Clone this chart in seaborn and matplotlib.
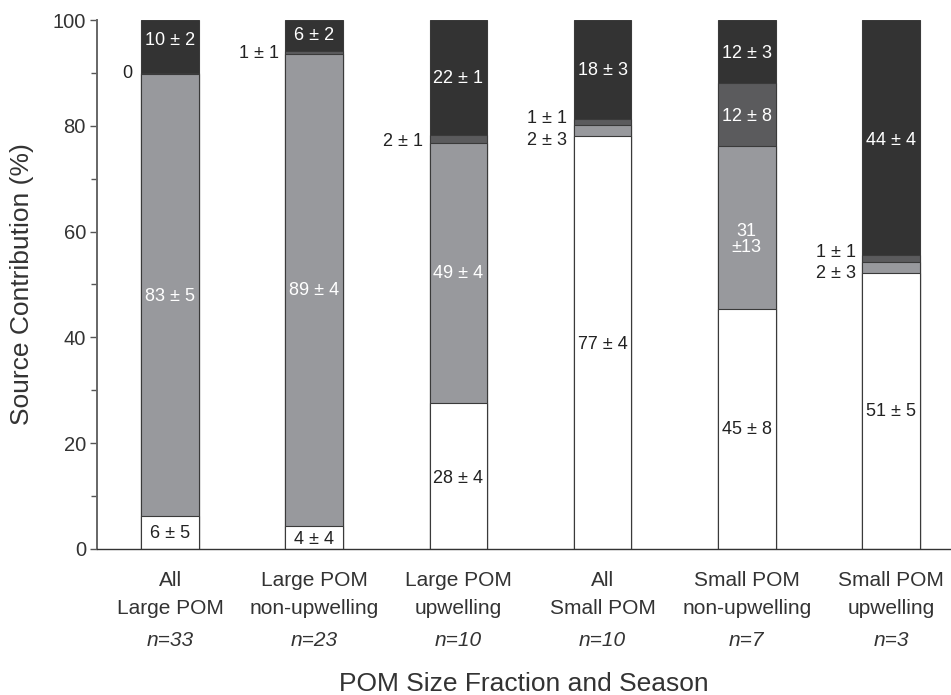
import numpy as np
import pandas as pd
import matplotlib
matplotlib.use("Agg")
import matplotlib.pyplot as plt
import matplotlib.transforms as mtransforms
import seaborn as sns

# ---------------- data ----------------
categories = ["All\nLarge POM", "Large POM\nnon-upwelling", "Large POM\nupwelling",
              "All\nSmall POM", "Small POM\nnon-upwelling", "Small POM\nupwelling"]
sample_sizes = ["n=33", "n=23", "n=10", "n=10", "n=7", "n=3"]

white_vals = [6.3, 4.4, 27.6, 78.1, 45.4, 52.2]
grey_vals = [83.4, 89.2, 49.1, 2.0, 30.8, 2.1]
mid_vals = [0.3, 0.5, 1.6, 1.2, 11.9, 1.3]
dark_vals = [10.0, 5.9, 21.7, 18.7, 11.9, 44.4]

white_labels = ["6 ± 5", "4 ± 4", "28 ± 4", "77 ± 4", "45 ± 8", "51 ± 5"]
grey_labels = ["83 ± 5", "89 ± 4", "49 ± 4", "2 ± 3", "31\n±13", "2 ± 3"]
mid_labels = ["0", "1 ± 1", "2 ± 1", "1 ± 1", "12 ± 8", "1 ± 1"]
dark_labels = ["10 ± 2", "6 ± 2", "22 ± 1", "18 ± 3", "12 ± 3", "44 ± 4"]

# ---------------- layout (label placement) ----------------
white_y = [3.0, 1.8, 13.4, 38.6, 22.5, 26.0]
grey_y = [47.8, 48.8, 52.0, 77.3, 58.5, 52.1]
mid_y = [89.8, 93.6, 77.1, 81.4, 81.7, 56.1]
dark_y = [96.2, 97.0, 89.0, 90.5, 93.7, 77.3]
grey_inside = [True, True, True, False, True, False]
mid_inside = [False, False, False, False, True, False]

sns.set_style("ticks")
plt.rcParams["font.family"] = ["Liberation Sans", "DejaVu Sans"]

C_WHITE = "#ffffff"
C_GREY = "#98999d"
C_MID = "#5b5b5d"
C_DARK = "#333333"
EDGE = "#3a3a3a"

fig = plt.figure(figsize=(9.51, 6.95), dpi=100)
ax = fig.add_axes([0.102, 0.2101, 0.897, 0.7611])

df = pd.DataFrame({
    "cat": categories,
    "white": white_vals,
    "grey": grey_vals,
    "mid": mid_vals,
    "dark": dark_vals,
})
df["c1"] = df["white"]
df["c2"] = df["c1"] + df["grey"]
df["c3"] = df["c2"] + df["mid"]
df["c4"] = df["c3"] + df["dark"]

for col, color in [("c4", C_DARK), ("c3", C_MID), ("c2", C_GREY), ("c1", C_WHITE)]:
    sns.barplot(data=df, x="cat", y=col, order=categories, color=color,
                saturation=1, width=0.4, edgecolor=EDGE, linewidth=0.8,
                errorbar=None, ax=ax)

ax.set_xlim(-0.507, 5.41)
ax.set_ylim(0, 100)
ax.set_yticks(np.arange(0, 101, 20))
ax.set_yticks(np.arange(10, 100, 20), minor=True)
ax.tick_params(axis="y", which="major", length=5, width=1, color="#555555",
               labelsize=14.5, labelcolor="#333333", pad=3)
ax.tick_params(axis="y", which="minor", length=4, width=1, color="#555555")
ax.tick_params(axis="x", length=0, pad=16, labelsize=15, labelcolor="#333333")
ax.set_xticks(range(len(categories)))
ax.set_xticklabels(categories)
for t in ax.get_xticklabels():
    t.set_linespacing(1.6)

sns.despine(ax=ax, top=True, right=True)
ax.spines["left"].set_color("#666666")
ax.spines["left"].set_linewidth(1.4)
ax.spines["bottom"].set_color("#333333")
ax.spines["bottom"].set_linewidth(1.0)

ax.set_ylabel("Source Contribution (%)", fontsize=19, color="#333333")
ax.yaxis.set_label_coords(-0.074, 0.5)
ax.set_xlabel("POM Size Fraction and Season", fontsize=19, color="#333333")
ax.xaxis.set_label_coords(0.5, -0.232)

# sample size lines (italic)
trans = mtransforms.blended_transform_factory(ax.transData, ax.transAxes)
for i, n in enumerate(sample_sizes):
    ax.text(i, -0.1834, n, transform=trans, ha="center", va="baseline",
            fontsize=15, style="italic", color="#333333")

FS = 13
off = 0.245
for i in range(len(categories)):
    ax.text(i, white_y[i], white_labels[i], ha="center", va="center",
            fontsize=FS, color="#222222")
    if grey_inside[i]:
        ax.text(i, grey_y[i], grey_labels[i], ha="center", va="center",
                fontsize=FS, color="white", linespacing=0.95)
    else:
        ax.text(i - off, grey_y[i], grey_labels[i], ha="right", va="center",
                fontsize=FS, color="#222222")
    if mid_inside[i]:
        ax.text(i, mid_y[i], mid_labels[i], ha="center", va="center",
                fontsize=FS, color="white")
    else:
        ax.text(i - off - (0.02 if i == 0 else 0), mid_y[i], mid_labels[i],
                ha="right", va="center", fontsize=FS, color="#222222")
    ax.text(i, dark_y[i], dark_labels[i], ha="center", va="center",
            fontsize=FS, color="white")

fig.savefig("out.png", dpi=100)
